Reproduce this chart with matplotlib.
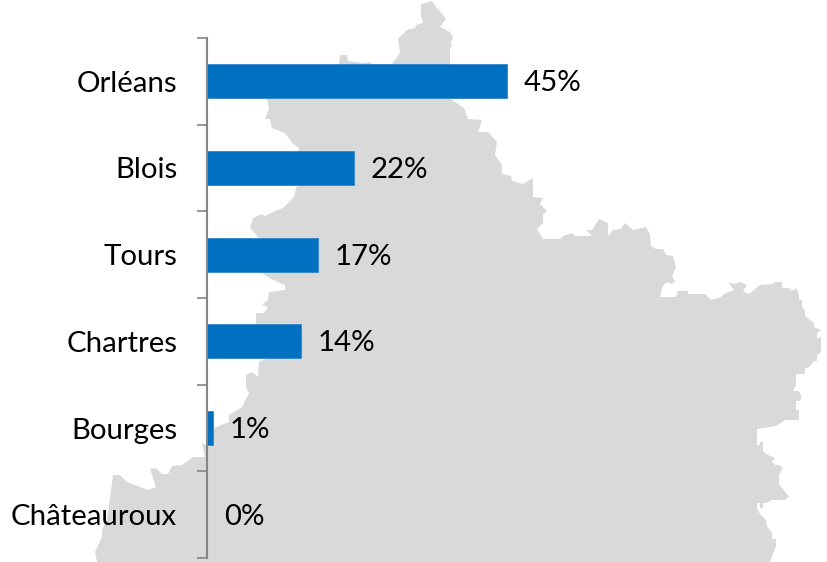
import matplotlib
matplotlib.use('Agg')
import matplotlib.pyplot as plt
from matplotlib.patches import Polygon

cities = ['Orléans', 'Blois', 'Tours', 'Chartres', 'Bourges', 'Châteauroux']
shares = [45, 22, 16.6, 14.1, 0.9, 0]
share_labels = ['45%', '22%', '17%', '14%', '1%', '0%']

# region silhouette behind the chart, traced in image pixels
map_x = [421, 432, 435, 439, 446, 440, 450, 453, 451, 452, 450, 450, 452, 464, 468, 482, 478, 488, 497, 495,
         502, 502, 511, 512, 523, 533, 533, 543, 540, 547, 543, 543, 537, 543, 560, 563, 572, 575, 592, 586,
         592, 599, 608, 608, 613, 621, 625, 633, 646, 650, 651, 656, 663, 666, 673, 676, 672, 675, 672, 666,
         662, 660, 676, 678, 688, 688, 705, 711, 721, 724, 734, 728, 734, 740, 747, 743, 749, 760, 773, 775,
         782, 782, 789, 792, 796, 799, 799, 802, 802, 805, 805, 814, 814, 821, 817, 817, 821, 821, 817, 817,
         814, 808, 805, 805, 796, 796, 793, 799, 802, 799, 796, 796, 799, 799, 785, 776, 757, 757, 760, 760,
         763, 763, 766, 775, 772, 775, 779, 783, 779, 779, 789, 785, 772, 766, 763, 763, 760, 760, 757, 757,
         760, 766, 767, 772, 772, 776, 776, 770, 97, 95, 102, 102, 107, 113, 120, 127, 148, 156, 150, 156,
         162, 168, 172, 182, 193, 205, 202, 207, 214, 229, 229, 242, 249, 246, 246, 252, 258, 259, 268, 256,
         256, 264, 268, 262, 268, 269, 285, 285, 273, 260, 258, 250, 253, 262, 265, 275, 283, 294, 296, 298,
         298, 299, 292, 285, 272, 270, 265, 269, 267, 339, 340, 347, 348, 363, 370, 372, 392, 400, 398, 407,
         415, 416, 423, 421]
map_y = [4, 1, 6, 10, 19, 27, 32, 37, 42, 46, 48, 64, 100, 108, 119, 120, 132, 132, 142, 155,
         165, 174, 176, 181, 184, 178, 197, 198, 204, 211, 215, 223, 229, 239, 239, 236, 233, 236, 236, 230,
         230, 219, 223, 236, 230, 229, 223, 230, 227, 235, 246, 249, 249, 255, 256, 267, 277, 281, 284, 282,
         288, 297, 297, 291, 291, 294, 294, 300, 297, 294, 290, 282, 284, 282, 285, 291, 294, 285, 284, 282,
         282, 288, 288, 291, 288, 294, 300, 300, 307, 310, 316, 323, 327, 330, 333, 339, 337, 352, 355, 361,
         361, 368, 368, 374, 374, 385, 391, 391, 398, 401, 401, 410, 410, 420, 420, 426, 429, 445, 445, 442,
         442, 451, 454, 458, 462, 465, 465, 468, 475, 484, 497, 500, 500, 503, 503, 508, 508, 503, 503, 508,
         514, 520, 526, 533, 539, 539, 546, 562, 562, 552, 537, 530, 520, 475, 475, 482, 490, 487, 469, 468,
         474, 474, 466, 465, 457, 457, 443, 446, 428, 422, 415, 407, 393, 387, 375, 372, 377, 362, 358, 324,
         313, 313, 307, 305, 300, 292, 290, 285, 280, 272, 237, 228, 218, 214, 216, 211, 208, 197, 188, 185,
         151, 148, 143, 133, 128, 119, 119, 108, 99, 64, 55, 55, 61, 63, 62, 64, 64, 53, 39, 30,
         28, 25, 23, 15]

W, H = 827, 562
fig = plt.figure(figsize=(W / 100, H / 100), dpi=100)

bg = fig.add_axes([0, 0, 1, 1])
bg.set_xlim(0, W)
bg.set_ylim(H, 0)
bg.axis('off')
bg.add_patch(Polygon(list(zip(map_x, map_y)), closed=True, facecolor='#D9D9D9', edgecolor='none'))

ax = fig.add_axes([207 / W, (H - 558) / H, (W - 207) / W, 520 / H])
ax.patch.set_alpha(0)
ypos = list(range(len(cities)))
ax.barh(ypos, shares, height=0.39, color='#0070C0', edgecolor='#2F86CB', linewidth=0.6)
ax.set_xlim(0, 93)
ax.set_ylim(5.5, -0.5)

for s in ['top', 'right', 'bottom']:
    ax.spines[s].set_visible(False)
ax.spines['left'].set_color('#868686')
ax.spines['left'].set_linewidth(1.5)
ax.xaxis.set_visible(False)

ax.set_yticks(ypos)
ax.set_yticklabels(cities, fontsize=21.2, family='Lato', color='black')
ax.set_yticks([y - 0.5 for y in range(len(cities) + 1)], minor=True)
ax.tick_params(axis='y', which='major', length=0, pad=21.5)
ax.tick_params(axis='y', which='minor', length=7, width=1.2, color='#868686')

for y, v, lab in zip(ypos, shares, share_labels):
    ax.annotate(lab, (v, y), xytext=(12, -1.5), textcoords='offset points', va='center', ha='left',
                fontsize=21.2, family='Lato', color='black')

fig.savefig('out.png', dpi=100)
